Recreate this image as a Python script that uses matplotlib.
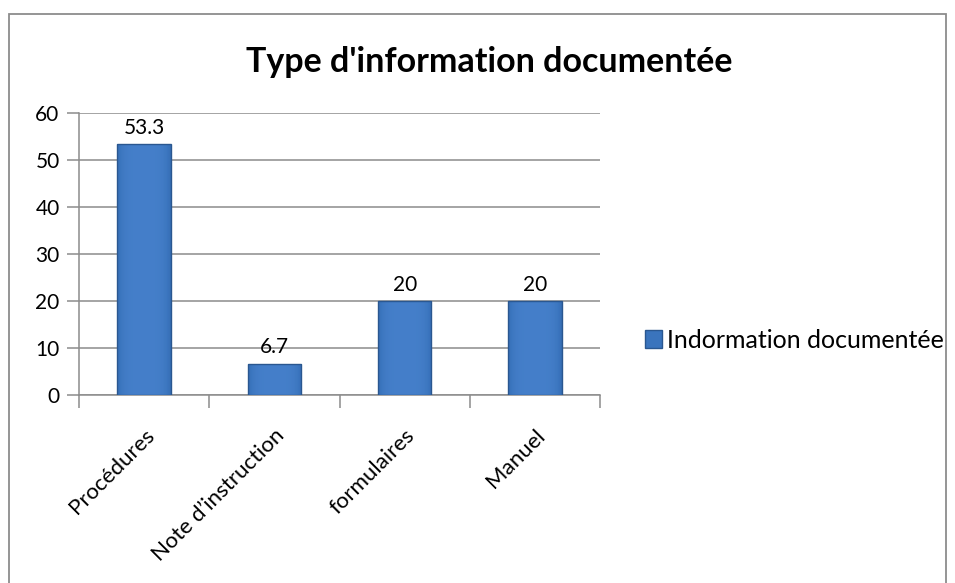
import numpy as np
import matplotlib.pyplot as plt
from matplotlib.patches import Rectangle
from matplotlib.colors import LinearSegmentedColormap

categories = ['Procédures', 'Note d\u2019instruction', 'formulaires', 'Manuel']
values = [53.3, 6.7, 20, 20]
labels = ['53.3', '6.7', '20', '20']
series_name = 'Indormation documentée'

plt.rcParams['font.family'] = ['Lato', 'DejaVu Sans']

fig = plt.figure(figsize=(9.55, 5.83), dpi=100)
# chart frame
fig.patches.append(Rectangle((9 / 955, -0.01), 937 / 955, 1 - 14 / 583 + 0.01,
                             transform=fig.transFigure, fill=False,
                             edgecolor='#8c8c8c', linewidth=1.3))

ax = fig.add_axes([79 / 955, 188 / 583, 521 / 955, 282 / 583])

x = np.arange(len(categories))
bars = ax.bar(x, values, width=0.41, color='#3a74bd', edgecolor='#2a5790',
              linewidth=1.0, label=series_name, zorder=3)

# soft shading across each bar
blue = LinearSegmentedColormap.from_list('bev', ['#2a5a98', '#3a74bd', '#4f8ad6'])
gx = np.linspace(-1, 1, 40)
shade = 0.75 - 0.35 * np.abs(gx)[None, :] ** 4
for b in bars:
    im = ax.imshow(shade, cmap=blue, vmin=0, vmax=1, aspect='auto',
                   extent=(b.get_x(), b.get_x() + b.get_width(), 0, b.get_height()),
                   origin='upper', zorder=3.5)
    im.set_clip_path(b)
    b.set_zorder(4)
    b.set_facecolor('none')

for xi, v, t in zip(x, values, labels):
    ax.text(xi, v + 1.3, t, ha='center', va='bottom', fontsize=15)

ax.set_xlim(-0.5, len(categories) - 0.5)
ax.set_ylim(0, 60)
ax.set_yticks(range(0, 61, 10))
ax.grid(axis='y', color='#8c8c8c', linewidth=1.1, zorder=0)
ax.set_axisbelow(True)

ax.set_xticks(x)
ax.set_xticklabels(categories, rotation=45, ha='right', va='top',
                   rotation_mode='anchor', fontsize=16)
ax.tick_params(axis='x', length=0, pad=22)
ax.set_xticks(np.arange(-0.5, len(categories), 1), minor=True)
ax.tick_params(axis='x', which='minor', length=9, color='#8c8c8c', width=1.1)
ax.tick_params(axis='y', length=9, color='#8c8c8c', width=1.1, labelsize=15, pad=5)

for s in ['top', 'right']:
    ax.spines[s].set_visible(False)
for s in ['left', 'bottom']:
    ax.spines[s].set_color('#8c8c8c')
    ax.spines[s].set_linewidth(1.1)

fig.text(489 / 955, 1 - 62 / 583, "Type d'information documentée",
         ha='center', va='center', fontsize=24.5, fontweight='bold')

handle = Rectangle((0, 0), 1, 1, facecolor='#3a74bd', edgecolor='#2a5790')
fig.legend(handles=[handle], labels=[series_name], loc='center left',
           bbox_to_anchor=(622 / 955, 1 - 340 / 583), frameon=False,
           fontsize=18, handlelength=0.7, handleheight=0.7, handletextpad=0.2)

fig.savefig('out.png', dpi=100)
